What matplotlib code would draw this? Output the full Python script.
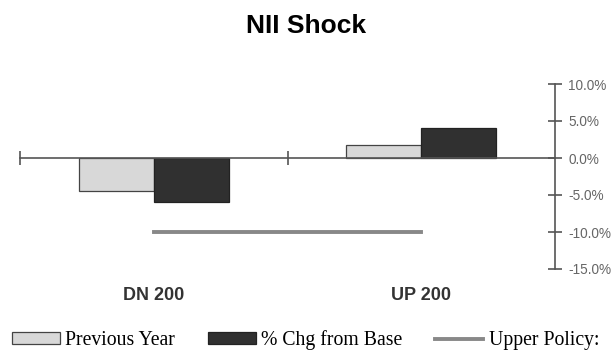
import matplotlib
matplotlib.use("Agg")
import matplotlib.pyplot as plt
from matplotlib.patches import Patch
from matplotlib.lines import Line2D
import numpy as np

categories = ["DN 200", "UP 200"]
previous_year = [-4.4, 1.7]
chg_from_base = [-6.0, 4.0]
upper_policy = [-10.0, -10.0]
yticks = [10, 5, 0, -5, -10, -15]
ytick_labels = ["10.0%", "5.0%", "0.0%", "-5.0%", "-10.0%", "-15.0%"]

fig = plt.figure(figsize=(6.12, 3.51), dpi=100)
ax = fig.add_axes([20/612, 82/351, 535/612, 185/351])

x = np.arange(len(categories))
w = 0.28
ax.bar(x - w/2, previous_year, width=w, color="#d8d8d8", edgecolor="#444444", linewidth=0.9, zorder=2)
ax.bar(x + w/2, chg_from_base, width=w, color="#303030", edgecolor="#222222", linewidth=0.9, zorder=2)
ax.plot(x, upper_policy, color="#888888", linewidth=2.8, zorder=2)

ax.set_xlim(-0.5, 1.5)
ax.set_ylim(-15, 10)

for s in ["top", "left"]:
    ax.spines[s].set_visible(False)
ax.spines["bottom"].set_position(("data", 0))
ax.spines["bottom"].set_color("#555555")
ax.spines["right"].set_color("#555555")
ax.spines["bottom"].set_linewidth(1.2)
ax.spines["right"].set_linewidth(1.2)
ax.spines["right"].set_bounds(-15, 10)

ax.yaxis.tick_right()
ax.set_yticks(yticks)
ax.set_yticklabels(ytick_labels)
ax.tick_params(axis="y", direction="inout", length=10, width=1.2, color="#555555", labelsize=9.8,
               labelcolor="#666666", pad=4.5)
for lbl in ax.get_yticklabels():
    lbl.set_fontfamily("Liberation Sans")

ax.set_xticks([-0.5, 0.5])
ax.set_xticklabels([])
ax.tick_params(axis="x", direction="inout", length=10, width=1.2, color="#555555")

for xi, c in zip(x, categories):
    ax.text(xi, 1 - 295/351, c, transform=matplotlib.transforms.blended_transform_factory(ax.transData, fig.transFigure),
            ha="center", va="center", fontsize=13, fontweight="bold", color="#333333",
            family="Liberation Sans")

fig.text(0.5, 1 - 26/351, "NII Shock", ha="center", va="center", fontsize=19,
         fontweight="bold", family="Liberation Sans")

handles = [
    Patch(facecolor="#d8d8d8", edgecolor="#444444", linewidth=0.9),
    Patch(facecolor="#303030", edgecolor="#222222", linewidth=0.9),
    Line2D([0], [0], color="#888888", linewidth=2.8),
]
labels = ["Previous Year", "% Chg from Base", "Upper Policy:"]
fig.legend(handles, labels, loc="center left", bbox_to_anchor=(12/612, 1 - 340/351), ncol=3,
           frameon=False, prop={"family": "Liberation Serif", "size": 14.2},
           handlelength=2.45, handleheight=0.52, handletextpad=0.26, columnspacing=1.65,
           borderpad=0, borderaxespad=0)

fig.savefig("out.png", dpi=100)
